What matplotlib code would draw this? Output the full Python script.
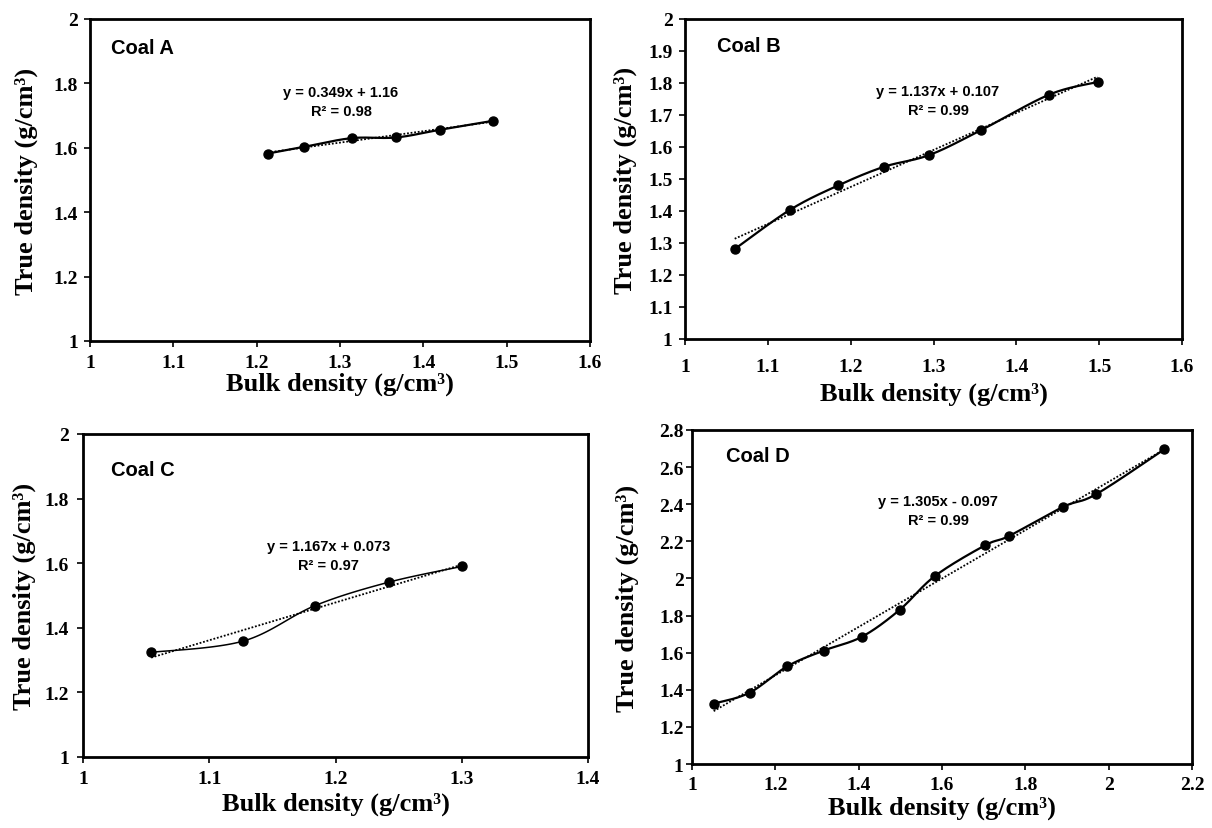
import numpy as np
import matplotlib
matplotlib.use("Agg")
import matplotlib.pyplot as plt

# ======================
# DATA
# ======================
names = ["Coal A", "Coal B", "Coal C", "Coal D"]

bulk_a = [1.213, 1.257, 1.314, 1.367, 1.420, 1.484]
true_a = [1.582, 1.603, 1.630, 1.632, 1.656, 1.684]

bulk_b = [1.060, 1.127, 1.185, 1.240, 1.295, 1.357, 1.440, 1.498]
true_b = [1.281, 1.404, 1.480, 1.538, 1.575, 1.652, 1.764, 1.803]

bulk_c = [1.054, 1.127, 1.184, 1.242, 1.300]
true_c = [1.324, 1.359, 1.469, 1.541, 1.590]

bulk_d = [1.052, 1.138, 1.229, 1.316, 1.408, 1.498, 1.583, 1.703, 1.761, 1.891, 1.970, 2.133]
true_d = [1.325, 1.384, 1.527, 1.611, 1.686, 1.830, 2.013, 2.178, 2.229, 2.386, 2.454, 2.695]

equations = ["y = 0.349x + 1.16\nR² = 0.98",
             "y = 1.137x + 0.107\nR² = 0.99",
             "y = 1.167x + 0.073\nR² = 0.97",
             "y = 1.305x - 0.097\nR² = 0.99"]

xticks = [[1, 1.1, 1.2, 1.3, 1.4, 1.5, 1.6],
          [1, 1.1, 1.2, 1.3, 1.4, 1.5, 1.6],
          [1, 1.1, 1.2, 1.3, 1.4],
          [1, 1.2, 1.4, 1.6, 1.8, 2, 2.2]]
yticks = [[1, 1.2, 1.4, 1.6, 1.8, 2],
          [1, 1.1, 1.2, 1.3, 1.4, 1.5, 1.6, 1.7, 1.8, 1.9, 2],
          [1, 1.2, 1.4, 1.6, 1.8, 2],
          [1, 1.2, 1.4, 1.6, 1.8, 2, 2.2, 2.4, 2.6, 2.8]]

# ======================
# LAYOUT (pixel boxes: left, right, top, bottom)
# ======================
W, H = 1212, 829
boxes = [(90, 590, 20, 342), (685, 1182, 20, 340),
         (83, 588, 435, 758), (692, 1192, 431, 765)]
name_pos = [(0.042, 0.913), (0.064, 0.916), (0.055, 0.89), (0.068, 0.925)]
eq_pos = [(0.502, 0.745), (0.509, 0.744), (0.487, 0.625), (0.492, 0.759)]
curve_lw = [1.6, 1.6, 1.1, 1.6]
xpad = [5.4, 10, 5.4, 5]
ypad = [4.6, 5, 6, 2]
xlab_y = [-0.096, -0.134, -0.108, -0.094]
ylab_x = [-0.104, -0.097, -0.093, -0.106]


def fmt(v):
    return ("%g" % v)


def smooth(x, y, n=30):
    # excel-like smoothed line (bezier / catmull-rom through the points)
    x = np.asarray(x, float)
    y = np.asarray(y, float)
    px = np.concatenate([[x[0]], x, [x[-1]]])
    py = np.concatenate([[y[0]], y, [y[-1]]])
    t = np.linspace(0, 1, n)[:, None]
    xs, ys = [], []
    for i in range(1, len(px) - 2):
        p0 = np.array([px[i], py[i]])
        p3 = np.array([px[i + 1], py[i + 1]])
        p1 = p0 + (np.array([px[i + 1], py[i + 1]]) - np.array([px[i - 1], py[i - 1]])) / 6
        p2 = p3 - (np.array([px[i + 2], py[i + 2]]) - np.array([px[i], py[i]])) / 6
        b = ((1 - t) ** 3) * p0 + 3 * ((1 - t) ** 2) * t * p1 + 3 * (1 - t) * t ** 2 * p2 + t ** 3 * p3
        xs.append(b[:, 0])
        ys.append(b[:, 1])
    return np.concatenate(xs), np.concatenate(ys)


fig = plt.figure(figsize=(W / 100, H / 100), dpi=100)
serif = "Liberation Serif"
sans = "Liberation Sans"

data = [(bulk_a, true_a), (bulk_b, true_b), (bulk_c, true_c), (bulk_d, true_d)]

for k, (bx, ty) in enumerate(data):
    l, r, t, b = boxes[k]
    ax = fig.add_axes([l / W, 1 - b / H, (r - l) / W, (b - t) / H])

    # linear trendline (dotted)
    m, c = np.polyfit(bx, ty, 1)
    xx = np.array([min(bx), max(bx)])
    ax.plot(xx, m * xx + c, color="black", lw=1.3, linestyle=(0, (1, 1)))

    sx, sy = smooth(bx, ty)
    ax.plot(sx, sy, color="black", lw=curve_lw[k])
    ax.plot(bx, ty, "o", color="black", markersize=6.5)

    ax.set_xlim(xticks[k][0], xticks[k][-1])
    ax.set_ylim(yticks[k][0], yticks[k][-1])
    ax.set_xticks(xticks[k])
    ax.set_yticks(yticks[k])
    ax.set_xticklabels([fmt(v) for v in xticks[k]], fontfamily=serif, fontweight="bold", fontsize=14)
    ax.set_yticklabels([fmt(v) for v in yticks[k]], fontfamily=serif, fontweight="bold", fontsize=14)
    ax.tick_params(direction="out", length=4, width=1.2)
    ax.tick_params(axis="x", pad=xpad[k])
    ax.tick_params(axis="y", pad=ypad[k])
    for s in ax.spines.values():
        s.set_linewidth(2)

    ax.set_xlabel("Bulk density (g/cm³)", fontfamily=serif, fontweight="bold", fontsize=19)
    ax.set_ylabel("True density (g/cm³)", fontfamily=serif, fontweight="bold", fontsize=19)
    ax.xaxis.set_label_coords(0.5, xlab_y[k])
    ax.yaxis.set_label_coords(ylab_x[k], 0.5)

    ax.text(name_pos[k][0], name_pos[k][1], names[k], transform=ax.transAxes,
            fontfamily=sans, fontweight="bold", fontsize=14.5, ha="left", va="center")
    ax.text(eq_pos[k][0], eq_pos[k][1], equations[k], transform=ax.transAxes,
            fontfamily=sans, fontweight="bold", fontsize=10.5, ha="center", va="center",
            linespacing=1.45)

fig.savefig("out.png", dpi=100)
